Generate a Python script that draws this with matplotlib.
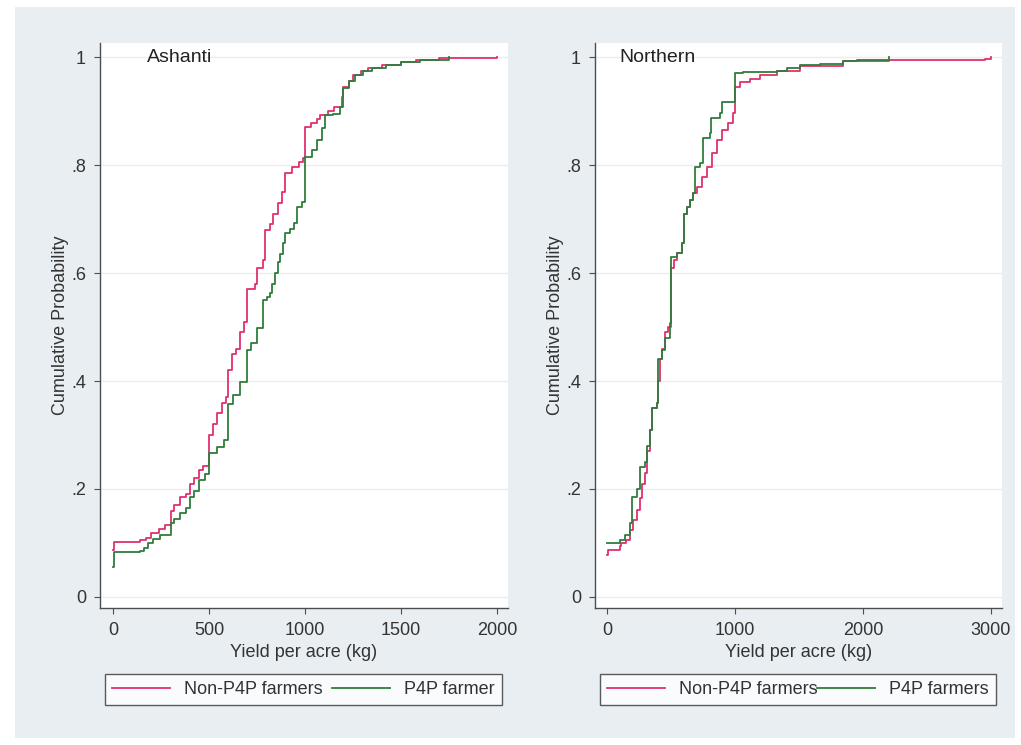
import matplotlib
matplotlib.use("Agg")
import matplotlib.pyplot as plt
from matplotlib.patches import Rectangle
from matplotlib.lines import Line2D

plt.rcParams['font.family'] = ['Liberation Sans', 'DejaVu Sans']

# === Data (step points, value holds from x onward) ===
ashanti_non_x = [0, 5, 140, 170, 200, 240, 270, 300, 320, 350, 380, 400, 420, 450, 470,
                 500, 520, 540, 570, 590, 600, 620, 640, 660, 680, 700, 740, 750, 780,
                 790, 820, 835, 860, 880, 895, 930, 970, 990, 1000, 1030, 1060, 1080,
                 1120, 1150, 1190, 1200, 1230, 1250, 1290, 1330, 1400, 1500, 1580, 1700, 2000]
ashanti_non_y = [.087, .102, .105, .11, .118, .125, .133, .16, .17, .185, .19, .21, .22, .235, .243,
                 .30, .32, .34, .36, .37, .42, .45, .46, .49, .51, .57, .58, .61, .625,
                 .68, .69, .71, .73, .75, .785, .797, .806, .813, .87, .877, .885, .893,
                 .90, .907, .926, .944, .955, .967, .975, .98, .985, .99, .995, .998, 1.0]

ashanti_p4p_x = [0, 5, 140, 160, 180, 210, 245, 300, 320, 350, 380, 400, 420, 450, 480,
                 500, 540, 580, 600, 625, 660, 700, 720, 750, 780, 800, 818, 830, 845,
                 860, 870, 885, 896, 920, 940, 960, 985, 1000, 1036, 1062, 1088, 1104,
                 1146, 1180, 1200, 1230, 1260, 1300, 1350, 1420, 1500, 1600, 1750]
ashanti_p4p_y = [.055, .083, .085, .09, .10, .108, .115, .137, .145, .155, .165, .185, .196, .216, .228,
                 .266, .278, .29, .358, .374, .398, .457, .47, .498, .55, .555, .563, .58, .60,
                 .62, .636, .655, .674, .682, .692, .722, .731, .815, .828, .846, .868, .893,
                 .895, .907, .943, .955, .967, .975, .98, .985, .99, .995, 1.0]

northern_non_x = [0, 5, 100, 110, 150, 180, 205, 235, 258, 275, 297, 312, 336, 352, 391,
                  398, 410, 430, 453, 480, 500, 520, 547, 586, 600, 625, 648, 672, 703,
                  742, 781, 820, 859, 898, 945, 984, 1000, 1039, 1117, 1195, 1328, 1508,
                  1844, 2200, 2950, 3000]
northern_non_y = [.078, .087, .095, .10, .105, .124, .143, .161, .183, .21, .23, .27, .31, .35, .36,
                  .40, .44, .46, .49, .50, .61, .625, .637, .655, .71, .722, .735, .748, .76,
                  .778, .797, .822, .846, .865, .877, .896, .944, .954, .96, .967, .975, .983,
                  .992, .995, .997, 1.0]

northern_p4p_x = [0, 100, 140, 180, 195, 234, 258, 297, 312, 336, 352, 391, 398, 430, 453,
                  492, 500, 547, 586, 600, 625, 648, 672, 688, 727, 750, 805, 810, 883,
                  898, 1000, 1063, 1219, 1328, 1406, 1508, 1664, 1844, 1953, 2200]
northern_p4p_y = [.10, .105, .115, .137, .185, .20, .24, .25, .28, .31, .35, .36, .44, .457, .48,
                  .507, .63, .637, .655, .71, .722, .735, .748, .797, .803, .85, .86, .887, .896,
                  .917, .97, .972, .972, .975, .98, .985, .988, .992, .995, 1.0]

y_ticks = [0, .2, .4, .6, .8, 1]
y_tick_labels = ['0', '.2', '.4', '.6', '.8', '1']

# === Figure layout in pixels ===
W, H = 1021, 745
fig = plt.figure(figsize=(W / 100, H / 100), dpi=100, facecolor='white')


def px_box(x0, y0, x1, y1):
    return [x0 / W, 1 - y1 / H, (x1 - x0) / W, (y1 - y0) / H]


bg_color = '#e8eef1'
fig.patches.append(Rectangle((15 / W, 1 - 738 / H), 1000 / W, 731 / H,
                             transform=fig.transFigure, facecolor=bg_color,
                             edgecolor='none', zorder=-10))

pink = '#e0306e'
green = '#2f7d3c'
fs = 13

panels = [
    dict(box=(100, 43, 508, 608), xlim=(-68, 2057), xticks=[0, 500, 1000, 1500, 2000],
         name='Ashanti', name_x=0.115,
         non=(ashanti_non_x, ashanti_non_y), p4p=(ashanti_p4p_x, ashanti_p4p_y),
         p4p_label='P4P farmer'),
    dict(box=(595, 43, 1002, 608), xlim=(-94, 3086), xticks=[0, 1000, 2000, 3000],
         name='Northern', name_x=0.06,
         non=(northern_non_x, northern_non_y), p4p=(northern_p4p_x, northern_p4p_y),
         p4p_label='P4P farmers'),
]

for p in panels:
    ax = fig.add_axes(px_box(*p['box']))
    ax.set_zorder(1)
    ax.set_facecolor('white')
    ax.step(p['non'][0], p['non'][1], where='post', color=pink, lw=1.3, zorder=3)
    ax.step(p['p4p'][0], p['p4p'][1], where='post', color=green, lw=1.3, zorder=3)

    ax.set_xlim(*p['xlim'])
    ax.set_ylim(-0.0204, 1.026)
    ax.set_xticks(p['xticks'])
    ax.set_xticklabels([str(t) for t in p['xticks']])
    ax.set_yticks(y_ticks)
    ax.set_yticklabels(y_tick_labels)
    ax.grid(axis='y', color='#ececec', lw=1.0, zorder=0)
    ax.set_axisbelow(True)

    for s in ['top', 'right']:
        ax.spines[s].set_visible(False)
    for s in ['left', 'bottom']:
        ax.spines[s].set_color('#4d4d4d')
        ax.spines[s].set_linewidth(1.0)
    ax.tick_params(axis='both', direction='out', length=4, width=0.8, color='#4d4d4d',
                   labelsize=fs, labelcolor='#333333')
    ax.tick_params(axis='x', pad=6)
    ax.tick_params(axis='y', pad=6)

    ax.set_xlabel('Yield per acre (kg)', fontsize=fs, color='#333333')
    ax.xaxis.set_label_coords(0.5, -0.064)
    ax.set_ylabel('Cumulative Probability', fontsize=fs, color='#333333')
    ax.yaxis.set_label_coords(-0.076, 0.5)

    ax.text(p['name_x'], 0.975, p['name'], transform=ax.transAxes, fontsize=14,
            color='#222222', ha='left', va='center')

    handles = [Line2D([], [], color=pink, lw=1.3), Line2D([], [], color=green, lw=1.3)]
    leg = ax.legend(handles, ['Non-P4P farmers', p['p4p_label']], ncol=2, mode='expand',
                    loc='center', bbox_to_anchor=(0.012, -0.175, 0.973, 0.062),
                    fontsize=fs, frameon=True, fancybox=False, handlelength=3.2,
                    handletextpad=0.8, columnspacing=0.5, borderpad=0.4,
                    borderaxespad=0)
    leg.get_frame().set_edgecolor('#333333')
    leg.get_frame().set_linewidth(1.0)
    for t in leg.get_texts():
        t.set_color('#333333')

fig.savefig('out.png', dpi=100, facecolor=fig.get_facecolor())
